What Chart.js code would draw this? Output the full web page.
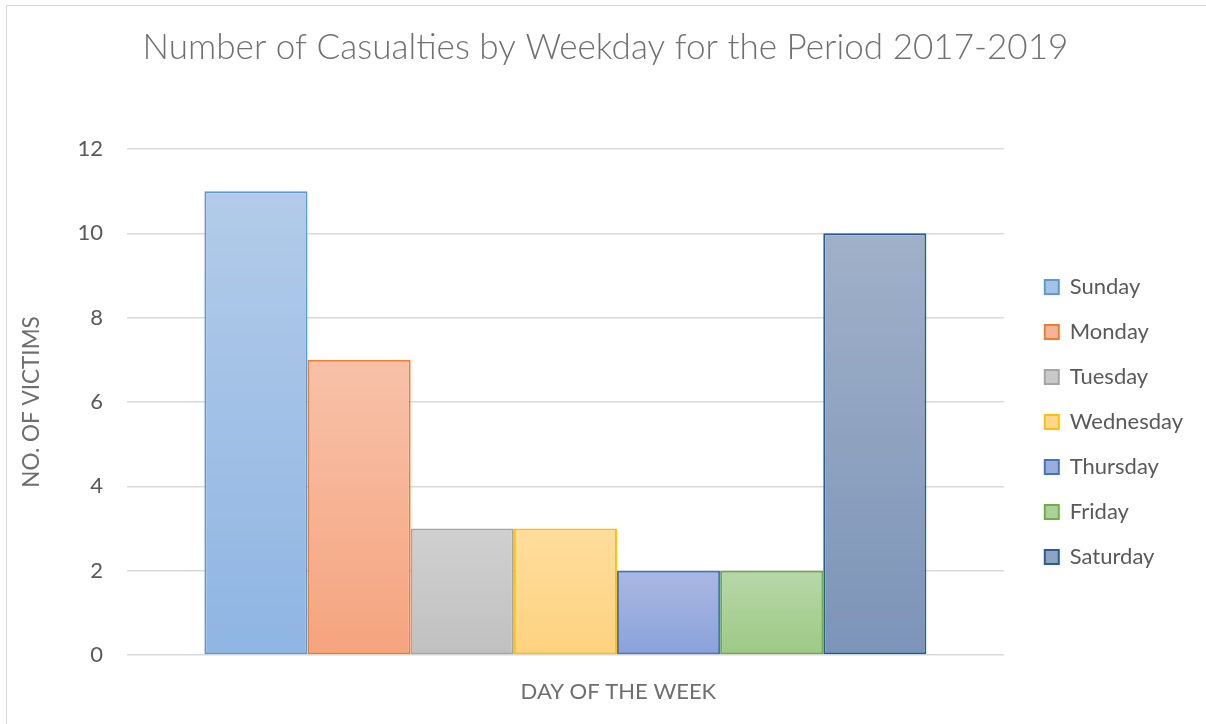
<!DOCTYPE html>
<html>
<head>
<meta charset="utf-8">
<script src="https://cdn.jsdelivr.net/npm/chart.js@4.4.1/dist/chart.umd.min.js"></script>
<style>
  html, body { margin: 0; padding: 0; background: #fff; overflow: hidden; }
  #wrap { position: relative; width: 1206px; height: 724px; }
  #frame { position: absolute; left: 6px; top: 5px; width: 1300px; height: 800px;
           border-top: 1.5px solid #d9d9d9; border-left: 1.5px solid #d9d9d9; pointer-events: none; }
  canvas { position: absolute; left: 0; top: 0; }
</style>
</head>
<body>
<div id="wrap">
  <canvas id="chart" width="1206" height="724"></canvas>
  <div id="frame"></div>
</div>
<script>
// ── Data ────────────────────────────────────────────────────
const days    = ['Sunday', 'Monday', 'Tuesday', 'Wednesday', 'Thursday', 'Friday', 'Saturday'];
const victims = [11, 7, 3, 3, 2, 2, 10];
const yMax    = 12;
const yStep   = 2;

// Excel-ish gradient fills (top -> bottom) and outlines
const fillTop    = ['#b2cbe9', '#f7c1a8', '#d0d0d0', '#ffdd9c', '#aab8e2', '#b7d7a9', '#a0b0c8'];
const fillBottom = ['#8fb5e3', '#f5a47e', '#c0c0c0', '#fed27f', '#89a2da', '#9dc984', '#7c94b8'];
const fillMid    = ['#a3c2e7', '#f6b496', '#c9c9c9', '#ffd88e', '#9aaede', '#abd099', '#8ea4c2'];
const outlines   = ['#5b9bd5', '#ed7d31', '#a5a5a5', '#ffc000', '#4472c4', '#70ad47', '#255e91'];

const FONT = "Lato, 'Open Sans', sans-serif";

// gradient spanning each bar from its top down to the zero line
function barGradient(i) {
  return (ctx) => {
    const chart = ctx.chart;
    const { chartArea, scales } = chart;
    if (!chartArea || !scales.y) return fillMid[i];
    const top    = scales.y.getPixelForValue(victims[i]);
    const bottom = scales.y.getPixelForValue(0);
    const g = chart.ctx.createLinearGradient(0, top, 0, bottom);
    g.addColorStop(0, fillTop[i]);
    g.addColorStop(1, fillBottom[i]);
    return g;
  };
}

// x axis title drawn a little right of centre, like the original
const xTitlePlugin = {
  id: 'xTitle',
  afterDraw(chart) {
    const { ctx, chartArea } = chart;
    ctx.save();
    ctx.font = `22px ${FONT}`;
    ctx.fillStyle = '#6e6e6e';
    ctx.textAlign = 'center';
    ctx.textBaseline = 'middle';
    ctx.fillText('DAY OF THE WEEK', (chartArea.left + chartArea.right) / 2 + 53, chartArea.bottom + 37);
    ctx.restore();
  }
};

const datasets = days.map((d, i) => ({
  label: d,
  data: [victims[i]],
  backgroundColor: barGradient(i),
  borderColor: outlines[i],
  borderWidth: 2,
  borderSkipped: false,
  categoryPercentage: 0.8235,
  barPercentage: 1.0,
}));

new Chart(document.getElementById('chart'), {
  type: 'bar',
  data: { labels: [''], datasets },
  plugins: [xTitlePlugin],
  options: {
    responsive: false,
    animation: false,
    devicePixelRatio: 1,
    layout: { padding: { left: 18, right: 13, top: 0, bottom: 69 } },
    plugins: {
      title: {
        display: true,
        text: 'Number of Casualties by Weekday for the Period 2017-2019',
        color: '#707070',
        font: { family: FONT, size: 35.1, weight: 300 },
        padding: { top: 27, bottom: 79.9 },
      },
      legend: {
        position: 'right',
        // empty title only used to push the item column down
        title: { display: true, text: '', font: { size: 10 }, padding: { top: 177, bottom: 0 } },
        labels: {
          color: '#595959',
          font: { family: FONT, size: 22 },
          boxWidth: 14,
          boxHeight: 14,
          padding: 23,
          generateLabels(chart) {
            const items = Chart.defaults.plugins.legend.labels.generateLabels(chart);
            return items.map((it, i) => Object.assign(it, {
              fillStyle: fillMid[i],
              strokeStyle: outlines[i],
              lineWidth: 2,
            }));
          },
        },
      },
      tooltip: { enabled: false },
    },
    scales: {
      x: {
        display: false,
      },
      y: {
        min: 0,
        max: yMax,
        ticks: { stepSize: yStep, color: '#595959', padding: 24, font: { family: FONT, size: 22 } },
        grid: { color: '#d9d9d9', lineWidth: 1.5, drawTicks: false },
        border: { display: false },
        title: {
          display: true,
          text: 'NO. OF VICTIMS',
          color: '#6e6e6e',
          font: { family: FONT, size: 22.5 },
          padding: { top: 0, bottom: 0 },
        },
        afterFit(scale) { scale.width = 109; },
      },
      gap: {
        position: 'right',
        display: true,
        grid: { display: false, drawTicks: false },
        border: { display: false },
        ticks: { display: false },
        afterFit(scale) { scale.width = 18; },
      },
    },
  },
});
</script>
</body>
</html>
